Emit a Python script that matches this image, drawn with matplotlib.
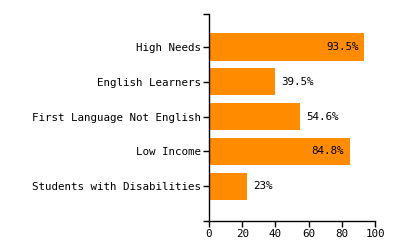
import matplotlib
matplotlib.use("Agg")
import matplotlib.pyplot as plt

# data
categories = ["High Needs", "English Learners", "First Language Not English",
              "Low Income", "Students with Disabilities"]
values = [93.5, 39.5, 54.6, 84.8, 23]
labels = ["93.5%", "39.5%", "54.6%", "84.8%", "23%"]
xticks = [0, 20, 40, 60, 80, 100]

plt.rcParams["font.family"] = "DejaVu Sans Mono"
plt.rcParams["font.size"] = 7.8

fig = plt.figure(figsize=(4, 2.5), dpi=100)
ax = fig.add_axes([0.5225, 0.116, 0.415, 0.828])

pos = list(range(len(categories)))
ax.barh(pos, values, height=0.78, color="#FF8C00")

# value labels: inside for long bars, outside for short
for p, v, lab in zip(pos, values, labels):
    if v > 80:
        ax.annotate(lab, (v, p), xytext=(-4, 0), textcoords="offset points",
                    ha="right", va="center", color="black")
    else:
        ax.annotate(lab, (v, p), xytext=(4.5, 0), textcoords="offset points",
                    ha="left", va="center", color="black")

ylo, yhi = 5.0, -0.95
ax.set_xlim(0, 100)
ax.set_ylim(ylo, yhi)
ax.set_xticks(xticks)
ax.set_yticks(pos)
ax.set_yticklabels(categories)
# outer ticks at both ends of the y axis, d3 style
ax.set_yticks([ylo, yhi], minor=True)

for s in ["top", "right"]:
    ax.spines[s].set_visible(False)
ax.spines["left"].set_linewidth(1)
ax.spines["bottom"].set_linewidth(1)
ax.tick_params(axis="y", which="both", length=4, width=1, pad=2)
ax.tick_params(axis="x", length=4, width=1, pad=2)

fig.savefig("out.png", dpi=100)
